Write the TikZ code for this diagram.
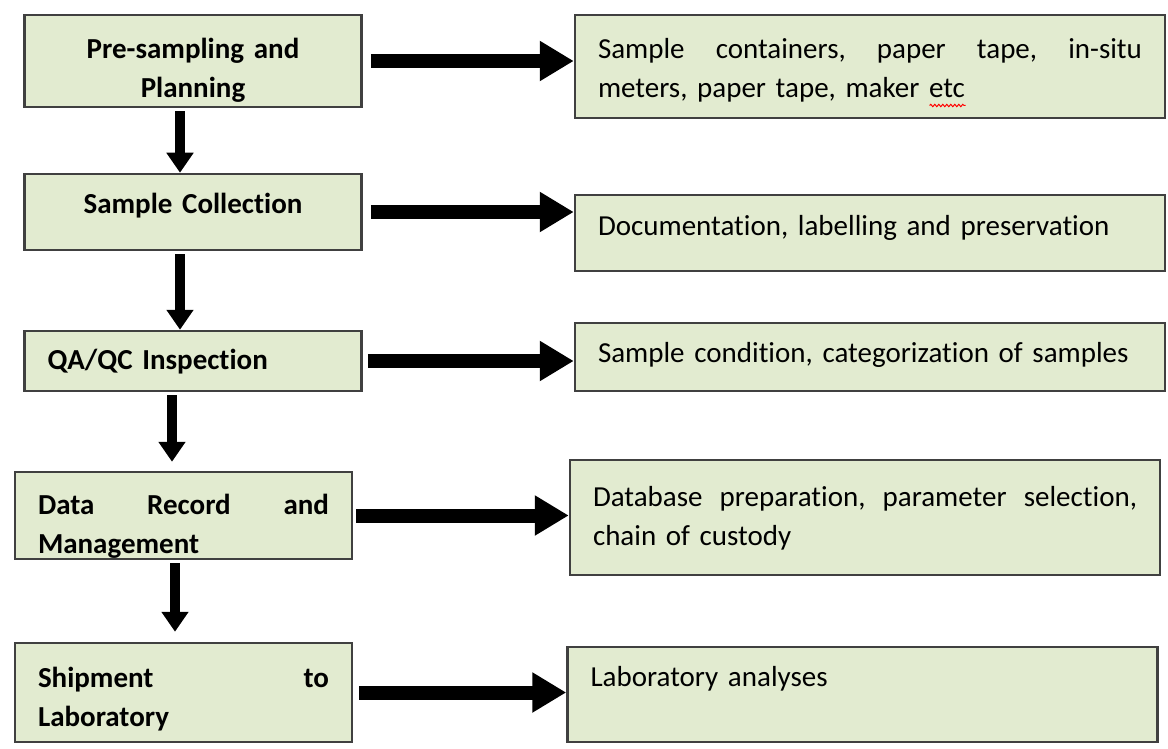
\documentclass[tikz,border=0pt]{standalone}
\usepackage{fontspec}
\setmainfont{Carlito}[Ligatures={NoCommon}]
\usetikzlibrary{arrows.meta}
\usetikzlibrary{decorations.pathmorphing}
\definecolor{boxgreen}{RGB}{226,235,208}
\definecolor{boxline}{RGB}{64,64,64}
\tikzset{
  stage/.style={draw=boxline, line width=2.5pt, fill=boxgreen, font=\fontsize{29}{39}\selectfont\bfseries, inner xsep=23pt, text width=291pt},
  task/.style={draw=boxline, line width=2.5pt, fill=boxgreen, font=\fontsize{29}{39}\selectfont, inner xsep=23pt, text width=544pt, align=left},
  flow/.style={line width=10pt, -{Triangle[length=20pt,width=26pt]}},
  feed/.style={line width=14pt, -{Triangle[length=34pt,width=38pt]}}
}

\begin{document}
\begin{tikzpicture}[x=1pt,y=-1pt]
\useasboundingbox (0,0) rectangle (1168,749);
\node [stage, align=center, minimum height=92pt, text height=18pt, text depth=22pt] (pre) at (193,61) {Pre-sampling and\\Planning};
\node [stage, align=center, minimum height=76pt, text height=22pt, text depth=18pt] (coll) at (193,212) {Sample Collection};
\node [stage, align=left, minimum height=60pt, text height=28pt, text depth=12pt] (qa) at (193,361) {QA/QC Inspection};
\node [stage, align=left, minimum height=87pt, text height=19pt, text depth=22pt] (data) at (183.5,515.5) {Data\hfill Record\hfill and\\Management};
\node [stage, align=left, minimum height=99pt, text height=15pt, text depth=26pt] (ship) at (183.5,692.5) {Shipment\hfill to\\Laboratory};

\node [task, minimum height=103pt, text height=12pt, text depth=28pt] (cont) at (870,66.5) {Sample\hfill containers,\hfill paper\hfill tape,\hfill in-situ\\meters, paper tape, maker \rlap{\tikz[baseline] \draw[red, line width=1pt, decorate, decoration={snake, amplitude=1.2pt, segment length=4pt}] (0pt,-8pt) -- (36pt,-8pt);}etc};
\node [task, minimum height=76pt, text height=23pt, text depth=17pt] (doc) at (870,233) {Documentation, labelling and preservation};
\node [task, minimum height=68pt, text height=25pt, text depth=15pt] (cond) at (870,357) {Sample condition, categorization of samples};
\node [task, minimum height=115pt, text height=9pt, text depth=32pt] (base) at (865,517.5) {Database\hfill preparation,\hfill parameter\hfill selection,\\chain of custody};
\node [task, minimum height=95pt, text height=12pt, text depth=29pt] (lab) at (862.5,694.5) {Laboratory analyses};

\draw [flow] ([xshift=-13pt,yshift=-3pt]pre.south) -- ([xshift=-13pt]coll.north);
\draw [flow] ([xshift=-13pt,yshift=-3pt]coll.south) -- ([xshift=-13pt]qa.north);
\draw [flow] ([xshift=-21pt,yshift=-3pt]qa.south) -- ([xshift=-11.5pt,yshift=9pt]data.north);
\draw [flow] ([xshift=-8.5pt,yshift=-3pt]data.south) -- ([xshift=-8.5pt,yshift=10pt]ship.north);

\draw [feed] ([xshift=8pt]pre.east) -- (pre.east -| cont.west);
\draw [feed] ([xshift=8pt]coll.east) -- (coll.east -| doc.west);
\draw [feed] ([xshift=5pt]qa.east) -- (qa.east -| cond.west);
\draw [feed] ([xshift=3pt]data.east) -- (data.east -| base.west);
\draw [feed] ([xshift=6pt]ship.east) -- (ship.east -| lab.west);
\end{tikzpicture}
\end{document}
